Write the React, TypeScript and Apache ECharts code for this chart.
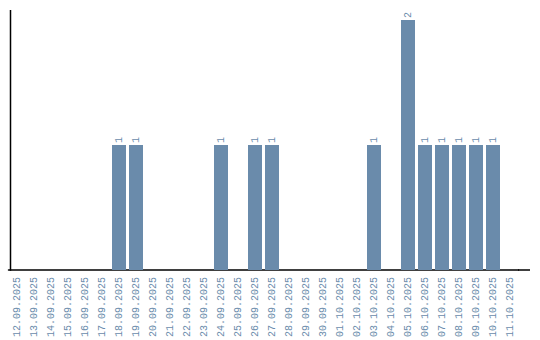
import React, { useEffect, useRef } from "react";
import * as echarts from "echarts";

const categories = [
  "12.09.2025", "13.09.2025", "14.09.2025", "15.09.2025", "16.09.2025", "17.09.2025",
  "18.09.2025", "19.09.2025", "20.09.2025", "21.09.2025", "22.09.2025", "23.09.2025",
  "24.09.2025", "25.09.2025", "26.09.2025", "27.09.2025", "28.09.2025", "29.09.2025",
  "30.09.2025", "01.10.2025", "02.10.2025", "03.10.2025", "04.10.2025", "05.10.2025",
  "06.10.2025", "07.10.2025", "08.10.2025", "09.10.2025", "10.10.2025", "11.10.2025",
];
const counts = [
  0, 0, 0, 0, 0, 0,
  1, 1, 0, 0, 0, 0,
  1, 0, 1, 1, 0, 0,
  0, 0, 0, 1, 0, 2,
  1, 1, 1, 1, 1, 0,
];

const BAR = "#6a8bab";
const TEXT = "#6a8bab";
const FONT = "Liberation Mono";

export default function App() {
  const ref = useRef<HTMLDivElement>(null);
  useEffect(() => {
    const chart = echarts.init(ref.current!, null, { renderer: "svg" });
    chart.setOption({
      animation: false,
      grid: { left: 8.5, right: 21.5, top: 10, bottom: 70, containLabel: false },
      xAxis: {
        type: "category",
        data: categories,
        axisLine: { show: true, lineStyle: { color: "#000", width: 1.5 } },
        axisTick: { show: false },
        axisLabel: {
          rotate: 90,
          interval: 0,
          margin: 7,
          color: TEXT,
          fontFamily: FONT,
          fontSize: 10,
        },
      },
      yAxis: {
        type: "value",
        min: 0,
        max: 2.08,
        axisLine: { show: false },
        axisTick: { show: false },
        axisLabel: { show: false },
        splitLine: { show: false },
      },
      series: [
        {
          type: "bar",
          data: counts.map((v) => (v === 0 ? null : v)),
          barWidth: 14,
          itemStyle: { color: BAR },
          label: {
            show: true,
            position: "top",
            rotate: 90,
            align: "left",
            verticalAlign: "middle",
            distance: 2,
            color: TEXT,
            fontFamily: FONT,
            fontSize: 10,
          },
        },
      ],
      graphic: [
        {
          type: "line",
          shape: { x1: 518, y1: 270, x2: 530, y2: 270 },
          style: { stroke: "#000", lineWidth: 1.5 },
        },
        {
          type: "line",
          shape: { x1: 10.5, y1: 10, x2: 10.5, y2: 270.75 },
          style: { stroke: "#000", lineWidth: 1.5 },
        },
      ],
    });
    return () => chart.dispose();
  }, []);
  return <div ref={ref} style={{ width: 540, height: 340, position: "absolute", left: 0, top: 0 }} />;
}
